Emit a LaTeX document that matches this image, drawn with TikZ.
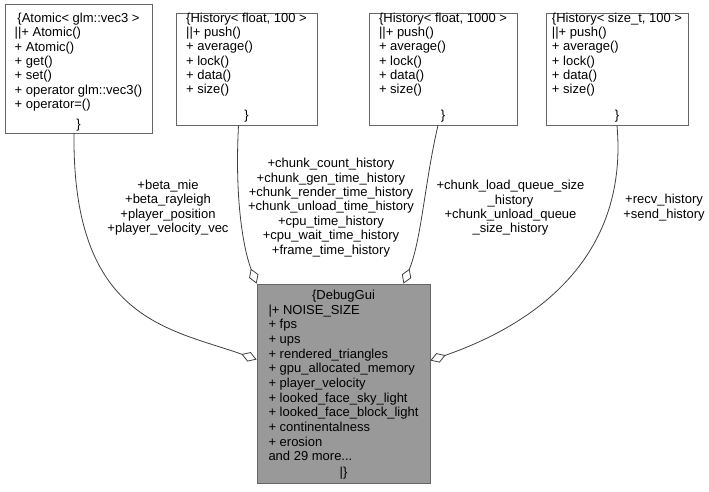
\documentclass[tikz,border=0pt]{standalone}
\usepackage{fontspec}
\setmainfont{Liberation Sans}
\usepackage{xcolor}
\usepackage{tikz}
\usetikzlibrary{arrows.meta}

\definecolor{clsborder}{HTML}{666666}
\definecolor{clsfill}{HTML}{999999}
\definecolor{edgecol}{HTML}{404040}

\newcommand\lblfont{\fontsize{13}{14.4}\selectfont}

\begin{document}
\begin{tikzpicture}[
  x=1pt, y=-1pt,
  cls/.style={draw=clsborder, line width=0.8pt, fill=white, inner sep=0pt},
  lbl/.style={font=\lblfont, align=center, inner sep=0pt},
  arr/.style={-{Diamond[open, length=16pt, width=10pt]}, draw=edgecol, line width=0.8pt}
]
\useasboundingbox (0,0) rectangle (709,491);

% used classes
\node[cls, minimum width=147pt, text height=18.5pt, text depth=110.5pt,
  font=\fontsize{13}{14.33}\selectfont] (atomic) at (78.5,68.5) {%
  \begin{tabular}[t]{@{}l@{}}
  \multicolumn{1}{@{}c@{}}{\{Atomic< glm::vec3 >}\\
  ||+ Atomic()\\
  + Atomic()\\
  + get()\\
  + set()\\
  + operator glm::vec3()\\
  + operator=()\\[5.7pt]
  \multicolumn{1}{@{}c@{}}{\}}
  \end{tabular}};
\node[cls, minimum width=141pt, text height=9.5pt, text depth=102.5pt,
  font=\fontsize{13}{14.2}\selectfont] (hist100) at (246.5,69) {%
  \begin{tabular}[t]{@{}l@{}}
  \multicolumn{1}{@{}c@{}}{\{History< float, 100 >}\\
  ||+ push()\\
  + average()\\
  + lock()\\
  + data()\\
  + size()\\[11.8pt]
  \multicolumn{1}{@{}c@{}}{\}}
  \end{tabular}};
\node[cls, minimum width=148pt, text height=9.5pt, text depth=102.5pt,
  font=\fontsize{13}{14.2}\selectfont] (hist1000) at (443,69) {%
  \begin{tabular}[t]{@{}l@{}}
  \multicolumn{1}{@{}c@{}}{\{History< float, 1000 >}\\
  ||+ push()\\
  + average()\\
  + lock()\\
  + data()\\
  + size()\\[11.8pt]
  \multicolumn{1}{@{}c@{}}{\}}
  \end{tabular}};
\node[cls, minimum width=142pt, text height=9.5pt, text depth=102.5pt,
  font=\fontsize{13}{14.2}\selectfont] (histsize) at (617,69) {%
  \begin{tabular}[t]{@{}l@{}}
  \multicolumn{1}{@{}c@{}}{\{History< size\_t, 100 >}\\
  ||+ push()\\
  + average()\\
  + lock()\\
  + data()\\
  + size()\\[11.8pt]
  \multicolumn{1}{@{}c@{}}{\}}
  \end{tabular}};

% the collaborating class
\node[cls, fill=clsfill, minimum width=173pt, text height=15.5pt, text depth=183.5pt,
  font=\fontsize{13}{14.65}\selectfont] (debug) at (343.5,383.5) {%
  \begin{tabular}[t]{@{}l@{}}
  \multicolumn{1}{@{}c@{}}{\{DebugGui}\\
  |+ NOISE\_SIZE\\
  + fps\\
  + ups\\
  + rendered\_triangles\\
  + gpu\_allocated\_memory\\
  + player\_velocity\\
  + looked\_face\_sky\_light\\
  + looked\_face\_block\_light\\
  + continentalness\\
  + erosion\\
  and 29 more...\\[1.6pt]
  \multicolumn{1}{@{}c@{}}{|\}}
  \end{tabular}};

% member edges
\draw[arr] ([xshift=-4.5pt]atomic.south) .. controls +(-2,187) and +(-87,-31) .. ([yshift=24pt]debug.west);
\draw[arr] ([xshift=-8pt]hist100.south) .. controls +(-4,75) and +(-13,-34) .. (debug.north west);
\draw[arr] ([xshift=-5pt]hist1000.south) .. controls +(-13,55) and +(18,-44) .. ([xshift=60pt]debug.north);
\draw[arr] (histsize.south) .. controls +(11,125) and +(115,-40) .. ([yshift=23pt]debug.east);

\node[lbl] (lblatomic) at (168,207.5) {+beta\_mie\\+beta\_rayleigh\\+player\_position\\+player\_velocity\_vec};
\node[lbl] (lblhist100) at (331,207.5) {+chunk\_count\_history\\+chunk\_gen\_time\_history\\+chunk\_render\_time\_history\\+chunk\_unload\_time\_history\\+cpu\_time\_history\\+cpu\_wait\_time\_history\\+frame\_time\_history};
\node[lbl] (lblhist1000) at (510.5,208) {+chunk\_load\_queue\_size\\\_history\\+chunk\_unload\_queue\\\_size\_history};
\node[lbl] (lblhistsize) at (664,207.5) {+recv\_history\\+send\_history};
\end{tikzpicture}
\end{document}
